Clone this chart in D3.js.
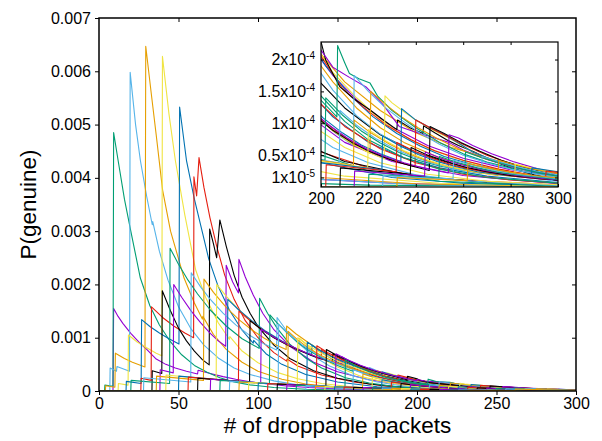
<!DOCTYPE html>
<meta charset="utf-8">
<style>
	body {
		margin:			0px;
		background:		white;
	}
	text {
		font-family:	"Liberation Sans", Arial, Helvetica, sans-serif;
	}
	.axis text {
		font-size:		16px;
		fill:			black;
	}
	.axis line {
		stroke:			black;
	}
</style>
<body>
<script src="https://d3js.org/d3.v7.min.js"></script>
<script>

	//All P(genuine) values below are written in units of 1e-5
	var UNIT = 1e-5;

	//Each series is a flat list: x, y, x, y, ...
	var s01 = [0,0, 8.8,0, 9.2,155, 12,140, 15,127, 20,108, 25,92, 30,78, 36,60, 42,50, 48,43, 55,37, 62,32, 62.3,39, 70,33, 78,27, 86,22, 95,17.5, 105,13.5, 118,9.5, 132,6.5, 150,4, 170,2.4, 200,1.2, 230,0.6, 260,0.3, 300,0.1];
	var s02 = [0,0, 3.5,0, 3.7,11, 8.8,9, 9.2,485, 12,433, 16,360, 20,300, 26,212, 32,160, 38,124, 45,92, 52,68, 60,48, 68,35, 76,25, 85,17, 95,11.5, 110,6.5, 130,3.2, 155,1.5, 185,0.7, 220,0.3, 300,0.05];
	var s03 = [0,0, 6.8,0, 7,43, 11,37, 11.3,46, 19.2,37, 19.6,598, 23,500, 26,433, 30,365, 33.5,312, 33.8,318, 38,262, 43.4,208, 50,158, 58,116, 66,86, 75,62, 85,43, 95,31, 110,19, 125,11.5, 145,6, 170,2.8, 200,1.2, 240,0.4, 300,0.1];
	var s04 = [0,0, 4,0, 4.2,10, 10,7, 10.3,71, 16,61, 21,54, 28.9,45, 29.4,647, 33,555, 36,480, 40,377, 45,300, 53.5,212, 60,165, 65,135, 65.3,140, 72,106, 80,78, 90,54, 100,37, 115,22, 130,13, 150,7, 175,3.2, 200,1.5, 240,0.5, 300,0.1];
	var s05 = [0,0, 12,0, 12.2,14, 18.3,11, 18.5,105, 24,92, 30,81, 36,71, 39.5,66, 39.9,628, 44,520, 48,433, 54,330, 60.8,227, 67,176, 75,128, 82,97, 82.3,102, 90,75, 100,53, 112,35, 125,23, 140,14, 160,7.5, 185,3.5, 210,1.7, 250,0.6, 300,0.15];
	var s06 = [0,0, 17,0, 17.2,18, 26.5,14, 26.8,134, 32,121, 38,109, 44,98, 50.3,88, 50.7,533, 55,433, 60,360, 65,298, 69,248, 75,196, 82,152, 90,114, 97,90, 97.3,95, 105,70, 115,50, 130,31, 150,17, 175,8, 200,3.8, 230,1.5, 260,0.6, 300,0.2];
	var s07 = [0,0, 26.3,0, 26.5,24, 32.8,20, 33,158, 40,138, 47,122, 54,109, 59.5,100, 59.7,402, 61.4,366, 62.9,438, 66,382, 69.8,325, 74,272, 79,218, 85,172, 92,132, 100,100, 110,72, 118,56, 118.3,60, 125,47, 140,30, 160,17, 180,9.5, 200,5.5, 220,3, 250,1.3, 300,0.3];
	var s08 = [0,0, 33.3,0, 33.5,38, 39.5,33, 39.8,188, 45,150, 50,118, 55,94, 60,75, 65,59, 69.3,49, 69.6,304, 72,276, 74,250, 76,321, 80,272, 85,217, 90,176, 95,146, 100,121, 110,86, 120,61, 135,38, 150,24, 170,13, 190,7.2, 210,4, 240,1.7, 270,0.7, 300,0.2];
	var s09 = [0,0, 38.3,0, 38.5,40, 46.7,34, 47,200, 52,176, 58,150, 64,128, 70,108, 75,94, 79.7,84, 80,236, 84,205, 87.7,184, 88,247, 92,214, 97,180, 103,146, 110,115, 120,84, 135,54, 150,36, 170,21, 190,12.5, 210,7, 230,4, 260,1.8, 300,0.5];
	var s10 = [0,0, 20,0, 20.2,20, 44.4,14, 44.7,268, 50,238, 56,208, 62,182, 70,152, 80,122, 90,98, 100.7,80, 101,174, 106,146, 112,118, 120,88, 130,62, 140,43, 155,25, 170,15, 185,8.6, 200,5, 220,2.5, 250,0.9, 300,0.15];
	var s11 = [0,0, 28,0, 28.2,25, 57.7,17, 58,222, 64,195, 70,172, 78,146, 86,124, 95,104, 104,88, 111.7,77, 112,138, 118,113, 125,91, 135,65, 145,47, 160,28, 175,17, 190,10, 205,6.2, 220,3.8, 240,1.9, 260,1, 300,0.25];
	var s12 = [0,0, 36,0, 36.2,28, 65.7,20, 66,210, 72,185, 80,157, 88,134, 96,115, 104,99, 111,87, 117.7,78, 118,122, 124,107, 132,90, 140,75, 150,60, 165,44, 180,31, 195,23, 210,16.5, 225,12, 240,8.5, 255,6.2, 270,4.6, 280,3.6, 290,2.8, 300,2.2];
	var s13 = [0,0, 42,0, 42.2,30, 73.7,21, 74,200, 80,178, 88,152, 96,130, 105,110, 115,92, 125.7,76, 126,99, 132,83, 140,62, 150,45, 165,27, 180,17, 195,10, 210,6.2, 225,3.8, 245,2, 270,0.9, 300,0.35];
	var s14 = [0,0, 50,0, 50.2,28, 80.7,20, 81,172, 88,152, 96,132, 105,112, 115,94, 124,80, 133.7,67, 134,86, 140,72, 150,54, 160,41, 175,26, 190,17, 205,11, 220,7, 235,4.6, 250,3, 270,1.7, 300,0.7];
	var s15 = [0,0, 56,0, 56.2,26, 87.7,18, 88,150, 95,132, 103,114, 112,97, 120,85, 128,74, 135,66, 139.7,60, 140,78, 146,65, 153,53, 160,43, 170,32, 180,23.5, 190,17.5, 200,13, 210,9.5, 225,6, 240,3.8, 260,2, 280,1.1, 300,0.6];
	var s16 = [0,0, 62,0, 62.2,24, 94.7,17, 95,132, 102,116, 110,100, 118,87, 126,76, 134,66, 140,60, 146.7,54, 147,70, 152,61, 160,49, 170,37, 180,28, 190,21.5, 200,16.3, 210,12.4, 225,8.2, 240,5.4, 260,3.1, 280,1.8, 300,1];
	var s17 = [0,0, 70,0, 70.2,22, 101.7,15, 102,116, 110,101, 118,88, 126,77, 135,66, 144,57, 152.7,50, 153,64, 158,56, 165,47, 175,37, 185,29, 195,22.5, 205,17.5, 215,13.7, 230,9.4, 245,6.5, 260,4.5, 280,2.7, 300,1.6];
	var s18 = [0,0, 76,0, 76.2,20, 107.2,14, 107.5,143, 112,128, 118,110, 125,91, 133,74, 141,61, 150,48, 159.7,37, 160,53, 165,45, 172,36.5, 180,27.5, 190,20, 200,14.3, 210,10.3, 220,7.4, 235,4.6, 250,2.8, 270,1.5, 300,0.6];
	var s19 = [0,0, 82,0, 82.2,18, 112.7,13, 113,125, 120,105, 128,86, 136,71, 145,56, 155,45, 163,37, 169.7,31.5, 170,44, 176,36.5, 185,28, 195,20.5, 205,15.2, 215,11.2, 225,8.3, 235,6.2, 250,4, 270,2.2, 300,0.9];
	var s20 = [0,0, 88,0, 88.2,17, 118.7,12, 119,112, 125,96, 132,80, 140,66, 148,55, 157,44, 166,36, 174.7,29, 175,38, 180,33, 188,26.5, 196,21, 205,16.5, 215,12.4, 225,9.3, 235,7, 250,4.6, 265,3, 280,1.9, 300,1.1];
	var s21 = [0,0, 94,0, 94.2,16, 124.7,11, 125,100, 132,85, 140,71, 148,59, 157,48, 166,39, 174,32, 180.7,27, 181,34, 187,29, 195,23.5, 205,18, 215,14, 225,10.6, 235,8, 245,6.1, 255,4.7, 270,3.1, 285,2.1, 300,1.3];
	var s22 = [0,0, 100,0, 100.2,15, 130.7,10, 131,92, 138,78, 146,65, 155,53, 164,43, 172,35, 177.7,30, 178,36, 185,29.5, 193,24, 202,19, 212,14.5, 222,11, 232,8.4, 242,6.4, 252,4.8, 265,3.4, 280,2.2, 300,1.2];
	var s23 = [0,0, 106,0, 106.2,14, 136.7,10, 137,85, 144,72, 152,60, 160,50, 168,40, 176,31, 183,25, 187.7,22, 188,30, 193,26, 200,20.5, 209,15.5, 218,12.5, 228,9.6, 238,7.4, 248,5.7, 260,4.2, 275,2.8, 290,1.8, 300,1.4];
	var s24 = [0,0, 112,0, 112.2,13, 142.7,9, 143,78, 150,66, 158,55, 166,45, 174,37, 182,30, 189,25, 193.7,21, 194,27.5, 197,25.5, 200,22.8, 202,19.9, 208,15.7, 214,13.8, 221,12, 226,10.6, 232,9, 232.3,10.5, 238,9.2, 243,8.4, 243.3,9.6, 248,8.5, 253,7.4, 258,6.5, 264,5.6, 272,4.2, 280,3, 290,1.9, 300,1];
	var s25 = [0,0, 118,0, 118.2,12, 148.7,8, 149,70, 156,59, 164,49, 172,40, 180,33, 188,27, 195,22, 199.7,19, 200,21.5, 205,18.8, 212,17.2, 219,15.7, 226,13, 233,9.5, 240,8.6, 247,7.8, 254,7, 260,5.8, 270,4.3, 280,3.2, 290,2.3, 300,1.7];
	var s26 = [0,0, 124,0, 124.2,11, 154.7,7.5, 155,58, 162,46, 170,36, 178,27.5, 186,21.3, 194,16.5, 200,13.6, 206.7,11, 207,22.2, 210,19.5, 212,17.8, 216,17, 220.7,16.3, 224,14.2, 230,12, 240,9.3, 250,7, 260,5.2, 270,3.9, 285,2.5, 300,1.5];
	var s27 = [0,0, 130,0, 130.2,10, 159.7,7, 160,40, 167,32, 175,24.5, 183,18.5, 191,14, 199,10.8, 206,8.5, 213.7,6.5, 214,17.5, 220,15, 227,12.5, 234,10.5, 242,8.4, 250,6.7, 260,5, 270,3.8, 280,2.8, 290,2.1, 300,1.5];
	var s28 = [0,0, 136,0, 136.2,9, 165.7,6, 166,32, 173,25.5, 181,19.5, 189,15, 197,11.5, 205,8.8, 213,6.8, 220.7,5.3, 221,15, 227,13, 234,11, 241,9.3, 249,7.6, 258,6, 268,4.6, 278,3.5, 288,2.6, 300,1.8];
	var s29 = [0,0, 142,0, 142.2,8.5, 171.7,5.5, 172,26, 179,21, 187,16, 195,12.4, 203,9.5, 211,7.3, 219,5.6, 226.7,4.4, 227,14.3, 230,13.2, 235,11.8, 240,10.5, 247,9, 255,7.5, 264,5.5, 274,4, 285,2.8, 300,1.6];
	var s30 = [0,0, 148,0, 148.2,8, 177.7,5, 178,21, 185,17.5, 193,13.8, 201,10.8, 209,8.5, 217,6.6, 225,5.2, 233.7,4, 234,12.3, 240,10.5, 246,9.3, 252,8.2, 258,6.9, 264,5.5, 272,4.3, 282,3.1, 292,2.2, 300,1.7];
	var s31 = [0,0, 154,0, 154.2,7.5, 183.7,4.5, 184,17, 191,14, 199,11, 207,8.6, 215,6.7, 223,5.3, 231,4.1, 239.7,3.2, 240,10.5, 246,9.3, 253,8, 261,6.5, 270,5, 280,3.7, 290,2.6, 300,1.8];
	var s32 = [0,0, 160,0, 160.2,7, 189.7,4.2, 190,14, 197,11.3, 205,8.9, 213,7, 221,5.5, 229,4.3, 237,3.4, 245.7,2.6, 246,9.5, 252,8.4, 259,7, 267,5.6, 276,4.2, 286,3, 300,1.8];
	var s33 = [0,0, 166,0, 166.2,6.5, 195.7,4, 196,12, 203,9.8, 211,7.7, 219,6, 227,4.8, 235,3.8, 244,2.9, 253.7,2.2, 254,8.2, 258,7.7, 264,6.5, 272,5.2, 281,4, 290,3, 300,2];
	var s34 = [0,0, 172,0, 172.2,6, 201.7,4.2, 202,14, 209,11.3, 217,8.8, 225,6.9, 233,5.4, 241,4.2, 250,3.3, 260.7,2.5, 261,5.5, 268,4.6, 276,3.7, 285,2.8, 300,1.7];
	var s35 = [0,0, 178,0, 178.2,5.5, 207.7,3.8, 208,12, 215,9.7, 223,7.6, 231,6, 239,4.7, 248,3.6, 258,2.7, 267.7,2.1, 268,4.8, 275,4, 283,3.2, 291,2.5, 300,1.9];
	var s36 = [0,0, 184,0, 184.2,5, 213.7,3.4, 214,10.5, 221,8.5, 229,6.7, 237,5.2, 245,4.1, 254,3.2, 264,2.4, 274.7,1.8, 275,4.2, 282,3.5, 290,2.8, 300,2.1];
	var s37 = [0,0, 190,0, 190.2,4.5, 219.7,3, 220,9, 227,7.3, 235,5.7, 243,4.5, 251,3.5, 260,2.7, 270,2.1, 281.7,1.6, 282,3.6, 290,2.9, 300,2.3];
	var s38 = [0,0, 196,0, 196.2,4, 225.7,2.7, 226,8, 233,6.5, 241,5.1, 249,4, 257,3.2, 266,2.4, 276,1.9, 288.7,1.4, 289,3, 300,2.4];
	var s39 = [0,0, 202,0, 202.2,3.5, 231.7,2.4, 232,7, 239,5.7, 247,4.5, 255,3.5, 263,2.8, 272,2.2, 283,1.6, 294.7,1.2, 295,2.5, 300,2.3];
	var s40 = [0,0, 208,0, 208.2,3, 237.7,2, 238,6.2, 245,5, 253,4, 261,3.1, 270,2.4, 280,1.8, 290,1.4, 300,1.1];
	var s41 = [0,0, 214,0, 214.2,2.5, 243.7,1.7, 244,5.5, 252,4.3, 260,3.4, 269,2.6, 279,2, 289,1.5, 300,1.1];
	var s42 = [0,0, 220,0, 220.2,2, 249.7,1.4, 250,4.8, 258,3.8, 266,3, 275,2.3, 285,1.8, 300,1.2];
	var s43 = [0,0, 226,0, 226.2,1.8, 255.7,1.2, 256,4.2, 264,3.4, 273,2.6, 283,2, 300,1.3];
	var s44 = [0,0, 232,0, 232.2,1.5, 261.7,1, 262,3.7, 270,3, 280,2.3, 290,1.8, 300,1.4];

	var seriesList = [s01, s02, s03, s04, s05, s06, s07, s08, s09, s10, s11,
		s12, s13, s14, s15, s16, s17, s18, s19, s20, s21, s22, s23, s24, s25,
		s26, s27, s28, s29, s30, s31, s32, s33, s34, s35, s36, s37, s38, s39,
		s40, s41, s42, s43, s44];

	//gnuplot default line colours, used in turn
	var seriesColors = ["#9400D3", "#009E73", "#56B4E9", "#E69F00",
						"#F0E442", "#0072B2", "#E51E10", "#000000"];

	//Tick values and labels
	var xTicks = [0, 50, 100, 150, 200, 250, 300];
	var yTicks = [0, 0.001, 0.002, 0.003, 0.004, 0.005, 0.006, 0.007];
	var yTickLabels = ["0", "0.001", "0.002", "0.003", "0.004", "0.005", "0.006", "0.007"];
	var insetXTicks = [200, 220, 240, 260, 280, 300];
	var insetYTicks = [1.5e-5, 0.5e-4, 1e-4, 1.5e-4, 2e-4];
	var insetYTickBase = ["1x10", "0.5x10", "1x10", "1.5x10", "2x10"];
	var insetYTickExp = ["-5", "-4", "-4", "-4", "-4"];

	var xLabel = "# of droppable packets";
	var yLabel = "P(genuine)";

	//Turns a flat x,y list into points
	function toPoints(flat) {
		var pts = [];
		for (var i = 0; i < flat.length; i += 2)
			pts.push([flat[i], flat[i + 1]]);
		return pts;
	}
	var data = seriesList.map(toPoints);

	var width = 602, height = 441;

	var svg = d3.select("body")
				.append("svg")
				.attr("width", width)
				.attr("height", height);

	//Main plot scales
	var xScale = d3.scaleLinear().domain([0, 300]).range([99, 576]);
	var yScale = d3.scaleLinear().domain([0, 0.007]).range([391, 18]);

	//Inset scales
	var xInset = d3.scaleLinear().domain([200, 300]).range([321, 558]);
	var yInset = d3.scaleLinear().domain([0, 2.275e-4]).range([187, 42]);

	var defs = svg.append("defs");
	defs.append("clipPath").attr("id", "mainClip")
		.append("rect")
		.attr("x", xScale(0)).attr("y", yScale(0.007))
		.attr("width", xScale(300) - xScale(0))
		.attr("height", yScale(0) - yScale(0.007));
	defs.append("clipPath").attr("id", "insetClip")
		.append("rect")
		.attr("x", xInset(200)).attr("y", yInset(2.275e-4))
		.attr("width", xInset(300) - xInset(200))
		.attr("height", yInset(0) - yInset(2.275e-4));

	//Main lines
	var mainLine = d3.line()
					.x(function(d) { return xScale(d[0]); })
					.y(function(d) { return yScale(d[1] * UNIT); });

	svg.append("g")
		.attr("clip-path", "url(#mainClip)")
		.selectAll("path")
		.data(data)
		.enter()
		.append("path")
		.attr("d", mainLine)
		.attr("fill", "none")
		.attr("stroke", function(d, i) { return seriesColors[i % seriesColors.length]; })
		.attr("stroke-width", 1.1)
		.attr("stroke-linejoin", "round");

	//Main axes: outward on left/bottom, inward mirrors on top/right
	svg.append("g")
		.attr("class", "axis")
		.attr("transform", "translate(0," + yScale(0) + ")")
		.call(d3.axisBottom(xScale).tickValues(xTicks).tickSize(4).tickPadding(3).tickSizeOuter(0))
		.call(function(g) { g.select(".domain").remove(); });

	svg.append("g")
		.attr("class", "axis")
		.attr("transform", "translate(" + xScale(0) + ",0)")
		.call(d3.axisLeft(yScale).tickValues(yTicks).tickSize(4).tickPadding(4)
			.tickFormat(function(d, i) { return yTickLabels[i]; }))
		.call(function(g) { g.select(".domain").remove(); });

	svg.append("g")
		.attr("class", "axis")
		.attr("transform", "translate(0," + yScale(0.007) + ")")
		.call(d3.axisTop(xScale).tickValues(xTicks.slice(1, -1)).tickSize(-4).tickFormat(""))
		.call(function(g) { g.select(".domain").remove(); });

	svg.append("g")
		.attr("class", "axis")
		.attr("transform", "translate(" + xScale(300) + ",0)")
		.call(d3.axisRight(yScale).tickValues(yTicks.slice(1, -1)).tickSize(-4).tickFormat(""))
		.call(function(g) { g.select(".domain").remove(); });

	//Main frame
	svg.append("rect")
		.attr("x", xScale(0))
		.attr("y", yScale(0.007))
		.attr("width", xScale(300) - xScale(0))
		.attr("height", yScale(0) - yScale(0.007))
		.attr("fill", "none")
		.attr("stroke", "black")
		.attr("stroke-width", 1.5);

	//Axis titles
	svg.append("text")
		.attr("x", (xScale(0) + xScale(300)) / 2)
		.attr("y", 433)
		.attr("text-anchor", "middle")
		.attr("font-size", "22.5px")
		.text(xLabel);

	svg.append("text")
		.attr("transform", "translate(36," + (yScale(0) + yScale(0.007)) / 2 + ") rotate(-90)")
		.attr("text-anchor", "middle")
		.attr("font-size", "22.5px")
		.text(yLabel);

	//Inset background
	svg.append("rect")
		.attr("x", xInset(200))
		.attr("y", yInset(2.275e-4))
		.attr("width", xInset(300) - xInset(200))
		.attr("height", yInset(0) - yInset(2.275e-4))
		.attr("fill", "white");

	//Inset lines
	var insetLine = d3.line()
					.x(function(d) { return xInset(d[0]); })
					.y(function(d) { return yInset(d[1] * UNIT); });

	svg.append("g")
		.attr("clip-path", "url(#insetClip)")
		.selectAll("path")
		.data(data)
		.enter()
		.append("path")
		.attr("d", insetLine)
		.attr("fill", "none")
		.attr("stroke", function(d, i) { return seriesColors[i % seriesColors.length]; })
		.attr("stroke-width", 1.1)
		.attr("stroke-linejoin", "round");

	//Inset axes, ticks pointing in
	svg.append("g")
		.attr("class", "axis")
		.attr("transform", "translate(0," + yInset(0) + ")")
		.call(d3.axisBottom(xInset).tickValues(insetXTicks).tickSize(-3).tickPadding(6))
		.call(function(g) { g.select(".domain").remove(); });

	svg.append("g")
		.attr("class", "axis")
		.attr("transform", "translate(0," + yInset(2.275e-4) + ")")
		.call(d3.axisTop(xInset).tickValues(insetXTicks.slice(1, -1)).tickSize(-3).tickFormat(""))
		.call(function(g) { g.select(".domain").remove(); });

	svg.append("g")
		.attr("class", "axis")
		.attr("transform", "translate(" + xInset(300) + ",0)")
		.call(d3.axisRight(yInset).tickValues(insetYTicks).tickSize(-3).tickFormat(""))
		.call(function(g) { g.select(".domain").remove(); });

	svg.append("g")
		.attr("class", "axis")
		.attr("transform", "translate(" + xInset(200) + ",0)")
		.call(d3.axisLeft(yInset).tickValues(insetYTicks).tickSize(-3).tickFormat(""))
		.call(function(g) { g.select(".domain").remove(); });

	//Inset y labels with superscript exponents
	var insetLabels = svg.append("g")
						.selectAll("text")
						.data(insetYTicks)
						.enter()
						.append("text")
						.attr("x", xInset(200) - 6)
						.attr("y", function(d) { return yInset(d) + 5.5; })
						.attr("text-anchor", "end")
						.attr("font-size", "16px")
						.attr("fill", "black");
	insetLabels.append("tspan")
		.text(function(d, i) { return insetYTickBase[i]; });
	insetLabels.append("tspan")
		.attr("font-size", "10px")
		.attr("dy", -6)
		.text(function(d, i) { return insetYTickExp[i]; });

	//Inset frame
	svg.append("rect")
		.attr("x", xInset(200))
		.attr("y", yInset(2.275e-4))
		.attr("width", xInset(300) - xInset(200))
		.attr("height", yInset(0) - yInset(2.275e-4))
		.attr("fill", "none")
		.attr("stroke", "black")
		.attr("stroke-width", 1.2);

</script>
</body>
